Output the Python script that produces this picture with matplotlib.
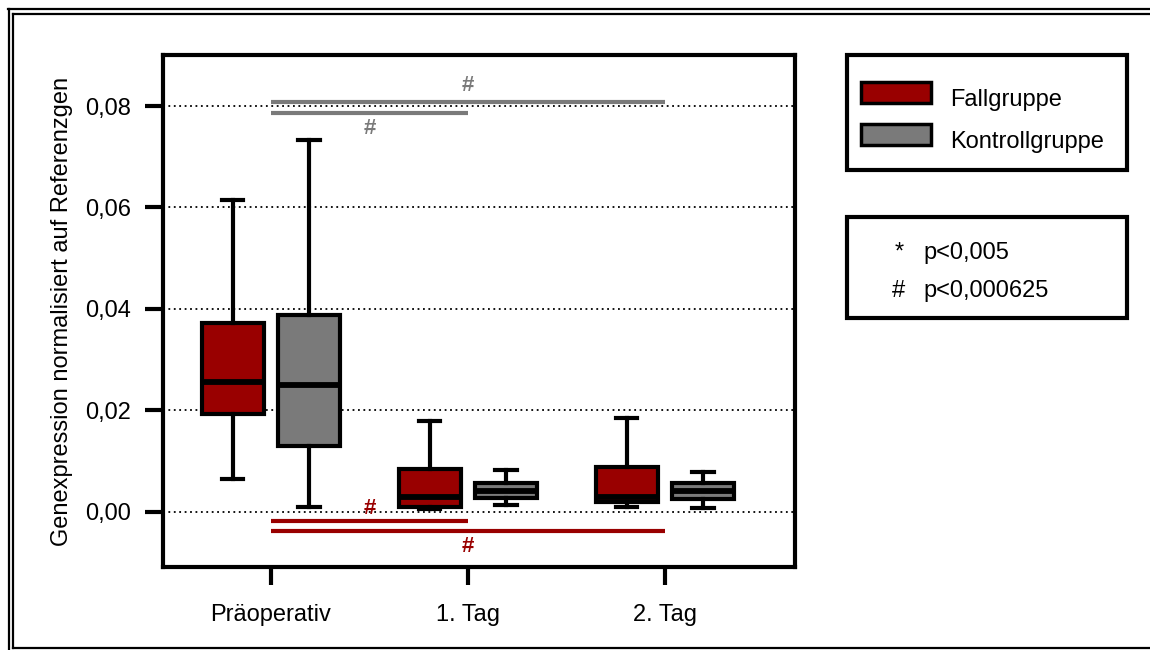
import matplotlib
matplotlib.use("Agg")
import matplotlib.pyplot as plt
from matplotlib.lines import Line2D
from matplotlib.patches import Rectangle

plt.rcParams['font.family'] = ['Liberation Sans', 'DejaVu Sans']

# Time points
groups = ['Präoperativ', '1. Tag', '2. Tag']

# Fallgruppe box statistics
fall_whislo = [0.0065, 0.0006, 0.0010]
fall_q1 = [0.0194, 0.0010, 0.0019]
fall_med = [0.0256, 0.0030, 0.0029]
fall_q3 = [0.0373, 0.0085, 0.0089]
fall_whishi = [0.0615, 0.0179, 0.0185]

# Kontrollgruppe box statistics
kontroll_whislo = [0.0010, 0.0014, 0.0007]
kontroll_q1 = [0.0130, 0.0028, 0.0026]
kontroll_med = [0.0250, 0.0042, 0.0041]
kontroll_q3 = [0.0389, 0.0058, 0.0057]
kontroll_whishi = [0.0733, 0.0083, 0.0079]

yticks = [0.00, 0.02, 0.04, 0.06, 0.08]
ytick_labels = ['0,00', '0,02', '0,04', '0,06', '0,08']

# Significance brackets: (start group, end group, height, label x, label y)
sig_kontroll = [(0, 2, 0.0808, 1.0, 0.0840), (0, 1, 0.0786, 0.5, 0.0756)]
sig_fall = [(0, 1, -0.0018, 0.5, 0.0006), (0, 2, -0.0037, 1.0, -0.0068)]

RED = '#990000'
GRAY = '#7a7a7a'
W, H = 1150, 650

fig = plt.figure(figsize=(11.5, 6.5), dpi=100)
ax = fig.add_axes([163 / W, 1 - 567 / H, (795 - 163) / W, (567 - 55) / H])


def stats(lo, q1, med, q3, hi):
    return [dict(whislo=a, q1=b, med=c, q3=d, whishi=e, fliers=[])
            for a, b, c, d, e in zip(lo, q1, med, q3, hi)]


offset = 0.193
width = 0.315
common = dict(showfliers=False, widths=width, capwidths=0.107, patch_artist=True,
              whiskerprops=dict(color='black', linewidth=3),
              capprops=dict(color='black', linewidth=3),
              medianprops=dict(color='black', linewidth=4.2, solid_capstyle='butt'))

ax.bxp(stats(fall_whislo, fall_q1, fall_med, fall_q3, fall_whishi),
       positions=[i - offset for i in range(len(groups))],
       boxprops=dict(facecolor=RED, edgecolor='black', linewidth=3), **common)
ax.bxp(stats(kontroll_whislo, kontroll_q1, kontroll_med, kontroll_q3, kontroll_whishi),
       positions=[i + offset for i in range(len(groups))],
       boxprops=dict(facecolor=GRAY, edgecolor='black', linewidth=3), **common)

# Significance bars and markers
for (a, b, y, tx, ty) in sig_kontroll:
    ax.plot([a, b], [y, y], color=GRAY, linewidth=3, solid_capstyle='butt', zorder=4)
    ax.text(tx, ty, '#', color=GRAY, fontsize=16, fontweight='bold',
            ha='center', va='center', zorder=5)
for (a, b, y, tx, ty) in sig_fall:
    ax.plot([a, b], [y, y], color=RED, linewidth=3, solid_capstyle='butt', zorder=4)
    ax.text(tx, ty, '#', color=RED, fontsize=16, fontweight='bold',
            ha='center', va='center', zorder=5)

ax.set_xlim(-0.548, 2.66)
ax.set_ylim(-0.01084, 0.09005)
ax.set_xticks(range(len(groups)))
ax.set_xticklabels(groups)
ax.set_yticks(yticks)
ax.set_yticklabels(ytick_labels)
ax.yaxis.grid(True, color='black', linestyle=(0, (1, 2)), linewidth=1.3)
ax.set_axisbelow(True)
for s in ax.spines.values():
    s.set_linewidth(3)
ax.tick_params(axis='both', direction='out', length=13, width=3, labelsize=17, colors='black')
ax.tick_params(axis='x', pad=14)
ax.tick_params(axis='y', pad=10)
ax.set_ylabel('Genexpression normalisiert auf Referenzgen', fontsize=17, labelpad=9)


def px(x, y):
    return x / W, 1 - y / H


# Legend box
fig.patches.append(Rectangle(px(847, 170), 280 / W, 115 / H, transform=fig.transFigure,
                             facecolor='white', edgecolor='black', linewidth=3))
for (y0, col, lab) in [(82, RED, 'Fallgruppe'), (124, GRAY, 'Kontrollgruppe')]:
    fig.patches.append(Rectangle(px(861, y0 + 21), 70 / W, 21 / H, transform=fig.transFigure,
                                 facecolor=col, edgecolor='black', linewidth=2.5))
    fig.text(*px(950, y0 + 18), lab, fontsize=17, ha='left', va='center')

# Significance key box
fig.patches.append(Rectangle(px(847, 318), 280 / W, 101 / H, transform=fig.transFigure,
                             facecolor='white', edgecolor='black', linewidth=3))
for (yc, sym, lab) in [(253, '*', 'p<0,005'), (291, '#', 'p<0,000625')]:
    fig.text(*px(899, yc), sym, fontsize=17, ha='center', va='center')
    fig.text(*px(923, yc), lab, fontsize=17, ha='left', va='center')

# Outer frame
frame = [((8, 1150), (9, 9)), ((13, 1150), (14, 14)),
         ((8.5, 8.5), (9, 650)), ((13, 13), (14, 648)),
         ((13, 1150), (648, 648))]
for xs, ys in frame:
    fig.add_artist(Line2D([x / W for x in xs], [1 - y / H for y in ys],
                          transform=fig.transFigure, color='black', linewidth=1.6))

fig.savefig('out.png', dpi=100, facecolor='white')
